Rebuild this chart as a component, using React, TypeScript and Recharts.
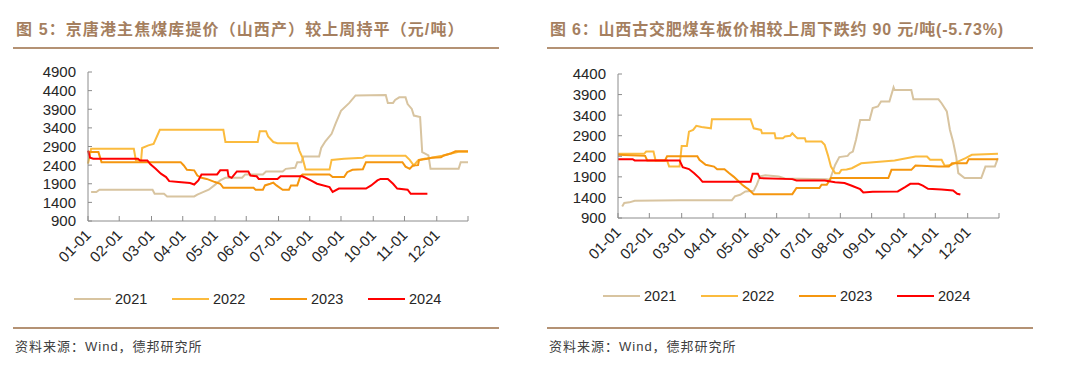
import React from 'react'
import { LineChart, Line, XAxis, YAxis } from 'recharts'

// day-of-year based x axis, labels every month
const MONTH_TICKS = [0, 30, 61, 91, 122, 152, 183, 213, 243, 274, 304, 335, 365]
const MONTH_LABELS = ['01-01', '02-01', '03-01', '04-01', '05-01', '06-01', '07-01', '08-01', '09-01', '10-01', '11-01', '12-01', '']

const YEARS = ['2021', '2022', '2023', '2024']
const YEAR_COLORS = ['#D8C4A0', '#FBBB3E', '#F5960F', '#FF0000']

const cokeTicks = [900, 1400, 1900, 2400, 2900, 3400, 3900, 4400, 4900]
const fatTicks = [900, 1400, 1900, 2400, 2900, 3400, 3900, 4400]

// 京唐港主焦煤库提价 [day, 元/吨]
const coke2021 = [
  [3, 1680], [8, 1680], [11, 1740], [62, 1740], [64, 1630], [73, 1630], [76, 1560], [102, 1560],
  [105, 1610], [111, 1680], [116, 1740], [121, 1850], [127, 1990], [132, 2060], [148, 2060], [151, 2150],
  [168, 2150], [171, 2230], [187, 2230], [190, 2300], [199, 2330], [201, 2480], [205, 2480], [207, 2630],
  [222, 2630], [224, 2860], [228, 3040], [234, 3240], [238, 3530], [243, 3860], [251, 4070], [257, 4270],
  [286, 4285], [288, 4070], [293, 4070], [295, 4150], [299, 4220], [305, 4220], [307, 4040], [311, 3910],
  [313, 3730], [319, 3690], [321, 2750], [327, 2660], [329, 2300], [356, 2300], [358, 2480], [365, 2480],
]
const coke2022 = [
  [0, 2440], [3, 2840], [44, 2840], [46, 2530], [51, 2530], [52, 2860], [58, 2930], [63, 2970], [69, 3350],
  [130, 3350], [132, 3020], [163, 3020], [165, 3310], [171, 3310], [173, 3170], [178, 3020], [182, 2990],
  [201, 2990], [203, 2790], [206, 2600], [209, 2280], [232, 2280], [234, 2540], [246, 2570], [264, 2600],
  [267, 2650], [305, 2650], [309, 2540], [313, 2390], [317, 2530], [323, 2570], [330, 2600], [340, 2650],
  [350, 2720], [356, 2760], [365, 2760],
]
const coke2023 = [
  [0, 2750], [10, 2750], [13, 2480], [89, 2480], [92, 2390], [95, 2275], [102, 2260], [105, 2120],
  [109, 2060], [114, 2030], [122, 1945], [127, 1900], [130, 1790], [159, 1790], [161, 1740], [168, 1740],
  [170, 1855], [175, 1900], [178, 1930], [181, 1855], [187, 1740], [193, 1740], [195, 1855], [201, 1855],
  [204, 2100], [206, 2150], [232, 2150], [235, 2080], [246, 2080], [249, 2210], [254, 2275], [264, 2290],
  [267, 2480], [302, 2480], [305, 2360], [309, 2300], [312, 2390], [317, 2400], [318, 2540], [326, 2570],
  [330, 2600], [339, 2610], [342, 2660], [349, 2720], [353, 2770], [365, 2770],
]
const coke2024 = [
  [0, 2790], [2, 2600], [5, 2570], [48, 2570], [50, 2525], [57, 2525], [60, 2420], [65, 2300], [70, 2170],
  [75, 2080], [78, 1970], [87, 1945], [98, 1920], [102, 1880], [106, 1990], [109, 2150], [124, 2150],
  [127, 2260], [134, 2260], [135, 2100], [138, 2060], [143, 2230], [154, 2230], [156, 2120], [162, 2100],
  [164, 2030], [182, 2030], [185, 2100], [206, 2100], [214, 1990], [220, 1900], [232, 1810], [235, 1680],
  [241, 1770], [267, 1770], [272, 1855], [278, 1990], [281, 2030], [288, 2030], [293, 1900], [297, 1770],
  [307, 1740], [310, 1630], [326, 1630],
]

// 山西古交肥煤车板价 [day, 元/吨]
const fat2021 = [
  [4, 1180], [6, 1265], [11, 1280], [16, 1320], [60, 1330], [109, 1330], [112, 1425], [117, 1465],
  [122, 1545], [130, 1560], [133, 1710], [136, 1910], [141, 1940], [154, 1910], [160, 1860], [200, 1840],
  [203, 1830], [208, 2190], [212, 2380], [220, 2410], [222, 2475], [225, 2515], [228, 2800], [232, 3280],
  [241, 3280], [244, 3570], [249, 3610], [252, 3730], [260, 3730], [264, 4075], [265, 4010], [281, 4010],
  [283, 3785], [307, 3785], [310, 3690], [315, 3490], [318, 3040], [321, 2760], [324, 2390], [326, 1990],
  [332, 1870], [348, 1870], [352, 2150], [361, 2150], [364, 2355],
]
const fat2022 = [
  [0, 2460], [25, 2460], [27, 2515], [34, 2515], [36, 2300], [47, 2300], [49, 2150], [59, 2150],
  [61, 2650], [66, 2650], [68, 3000], [72, 3040], [75, 3140], [80, 3110], [89, 3080], [90, 3300],
  [127, 3300], [130, 3080], [137, 3040], [138, 2960], [150, 2960], [151, 2840], [158, 2840], [160, 2880],
  [165, 2900], [167, 2960], [170, 2880], [172, 2840], [179, 2840], [180, 2760], [195, 2760], [198, 2680],
  [201, 2435], [204, 2150], [208, 1990], [212, 1990], [214, 2070], [219, 2080], [224, 2110], [233, 2230],
  [265, 2300], [285, 2395], [296, 2395], [299, 2315], [310, 2315], [313, 2170], [319, 2190], [324, 2250],
  [333, 2355], [339, 2435], [364, 2460],
]
const fat2023 = [
  [0, 2435], [26, 2410], [28, 2300], [45, 2300], [47, 2400], [76, 2400], [78, 2315], [84, 2195],
  [92, 2150], [95, 2085], [102, 2085], [106, 2000], [111, 1900], [114, 1830], [119, 1710], [122, 1650],
  [125, 1600], [130, 1480], [167, 1480], [171, 1630], [193, 1630], [195, 1710], [200, 1710], [202, 1790],
  [204, 1870], [259, 1870], [262, 2070], [281, 2070], [285, 2175], [307, 2150], [317, 2150], [320, 2230],
  [334, 2230], [336, 2330], [364, 2330],
]
const fat2024 = [
  [0, 2330], [14, 2330], [16, 2300], [59, 2300], [62, 2135], [68, 2090], [73, 1990], [78, 1870],
  [81, 1780], [127, 1780], [129, 1975], [134, 1975], [136, 1870], [167, 1845], [171, 1810], [198, 1810],
  [208, 1770], [217, 1750], [224, 1685], [232, 1600], [235, 1520], [244, 1540], [268, 1545], [275, 1650],
  [280, 1730], [288, 1730], [292, 1685], [297, 1610], [310, 1590], [321, 1570], [325, 1490], [328, 1470],
]

const AXIS = '#8C8C8C'
const BROWN = '#A57F5F'
const RULE = '#B49274'
const FONT = '"Liberation Sans", Arial, "Noto Sans CJK SC", sans-serif'

const toRows = (pairs: number[][]) => pairs.map(([d, v]) => ({ d, v }))

function XTick({ x, y, payload }: any) {
  const label = MONTH_LABELS[MONTH_TICKS.indexOf(payload.value)] ?? ''
  const tx = x + 4
  const ty = y + 15
  return (
    <g>
      <line x1={x} y1={y} x2={x} y2={y - 5} stroke={AXIS} />
      {label && (
        <text x={tx} y={ty} transform={`rotate(-45 ${tx} ${ty})`} textAnchor="end" fontSize={15} fill="#262626" fontFamily={FONT}>
          {label}
        </text>
      )}
    </g>
  )
}

function YTick({ x, y, payload }: any) {
  return (
    <g>
      <line x1={x} y1={y} x2={x + 4} y2={y} stroke={AXIS} />
      <text x={x - 12} y={y} dy="0.36em" textAnchor="end" fontSize={15} fill="#262626" fontFamily={FONT}>
        {payload.value}
      </text>
    </g>
  )
}

type PanelProps = {
  left: number
  title: string
  series: number[][][]
  yTicks: number[]
  margin: { top: number; right: number; left: number; bottom: number }
  xHeight: number
  legendY: number
  legendX: number
  ruleLeft: number
  ruleWidth: number
  titleSpacing: number
}

function Panel({ left, title, series, yTicks, margin, xHeight, legendY, legendX, ruleLeft, ruleWidth, titleSpacing }: PanelProps) {
  return (
    <>
      <div style={{ position: 'absolute', left: ruleLeft + 3, top: 20, fontSize: 16, fontWeight: 'bold', color: BROWN, letterSpacing: titleSpacing, whiteSpace: 'nowrap', fontFamily: FONT, lineHeight: '20px' }}>
        {title}
      </div>
      <div style={{ position: 'absolute', left: ruleLeft, top: 47, width: ruleWidth, height: 2, background: RULE }} />
      <div style={{ position: 'absolute', left, top: 0 }}>
        <LineChart width={540} height={270} margin={margin}>
          <XAxis
            type="number"
            dataKey="d"
            domain={[0, 365]}
            ticks={MONTH_TICKS}
            interval={0}
            tickSize={0}
            tickMargin={0}
            height={xHeight}
            axisLine={{ stroke: AXIS }}
            tickLine={false}
            tick={<XTick />}
          />
          <YAxis
            type="number"
            domain={[yTicks[0], yTicks[yTicks.length - 1]]}
            ticks={yTicks}
            interval={0}
            tickSize={0}
            tickMargin={0}
            width={60}
            axisLine={{ stroke: AXIS }}
            tickLine={false}
            tick={<YTick />}
          />
          {series.map((s, i) => (
            <Line
              key={YEARS[i]}
              data={toRows(s)}
              dataKey="v"
              name={YEARS[i]}
              type="linear"
              stroke={YEAR_COLORS[i]}
              strokeWidth={2}
              dot={false}
              isAnimationActive={false}
            />
          ))}
        </LineChart>
      </div>
      <div style={{ position: 'absolute', left: legendX, top: legendY - 10, height: 20, display: 'flex', fontFamily: FONT, fontSize: 14.5, color: '#262626' }}>
        {YEARS.map((yr, i) => (
          <div key={yr} style={{ width: 98, display: 'flex', alignItems: 'center' }}>
            <div style={{ width: 37, height: 2, background: YEAR_COLORS[i], marginRight: 4 }} />
            <span>{yr}</span>
          </div>
        ))}
      </div>
      <div style={{ position: 'absolute', left: ruleLeft, top: 327, width: ruleWidth, height: 2, background: RULE }} />
      <div style={{ position: 'absolute', left: ruleLeft + 2, top: 338, fontSize: 13, letterSpacing: 1, color: '#404040', fontFamily: FONT, lineHeight: '18px', whiteSpace: 'nowrap' }}>
        资料来源：Wind，德邦研究所
      </div>
    </>
  )
}

export default function App() {
  return (
    <div style={{ position: 'absolute', left: 0, top: 0, width: 1080, height: 371, background: '#fff', overflow: 'hidden' }}>
      <Panel
        left={0}
        title="图 5：京唐港主焦煤库提价（山西产）较上周持平（元/吨）"
        series={[coke2021, coke2022, coke2023, coke2024]}
        yTicks={cokeTicks}
        margin={{ top: 72, right: 72, left: 28, bottom: 0 }}
        xHeight={49}
        legendY={299}
        legendX={74}
        ruleLeft={13}
        ruleWidth={486}
        titleSpacing={1.1}
      />
      <Panel
        left={540}
        title="图 6：山西古交肥煤车板价相较上周下跌约 90 元/吨(-5.73%)"
        series={[fat2021, fat2022, fat2023, fat2024]}
        yTicks={fatTicks}
        margin={{ top: 74, right: 81, left: 18, bottom: 0 }}
        xHeight={52}
        legendY={296}
        legendX={603}
        ruleLeft={547}
        ruleWidth={486}
        titleSpacing={0.8}
      />
    </div>
  )
}
